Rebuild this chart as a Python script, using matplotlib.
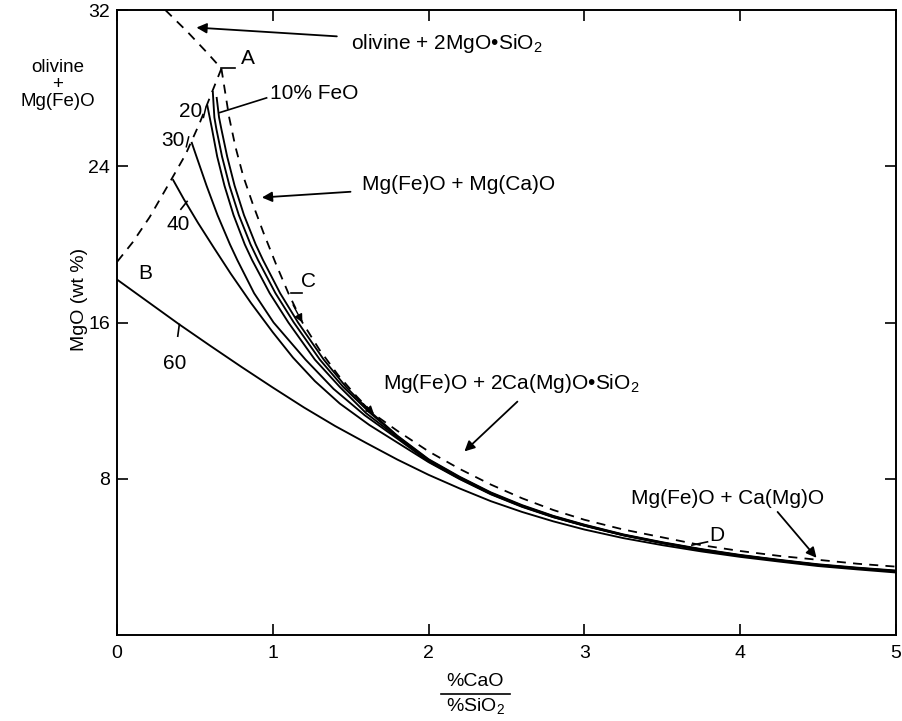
import matplotlib
matplotlib.use("Agg")
import matplotlib.pyplot as plt
from matplotlib.lines import Line2D

plt.rcParams['font.family'] = ['Liberation Sans', 'DejaVu Sans']
plt.rcParams['mathtext.fontset'] = 'custom'
plt.rcParams['mathtext.rm'] = 'Liberation Sans'

# ---- data ----
# dashed phase boundary
dash_top_x = [0.31, 0.45, 0.58, 0.67]
dash_top_y = [32.0, 30.9, 29.8, 29.0]
dash_left_x = [0.67, 0.60, 0.53, 0.44, 0.34, 0.21, 0.10, 0.0]
dash_left_y = [29.0, 27.6, 26.2, 24.6, 23.2, 21.4, 20.1, 19.1]
dash_right_x = [0.67, 0.69, 0.72, 0.76, 0.81, 0.87, 0.94, 1.02, 1.10, 1.19, 1.30, 1.42, 1.54, 1.65,
                1.8, 2.0, 2.2, 2.4, 2.6, 2.8, 3.0, 3.25, 3.5, 3.75, 4.0, 4.25, 4.5, 4.75, 5.0]
dash_right_y = [29.0, 28.0, 26.5, 25.0, 23.5, 22.1, 20.6, 19.0, 17.5, 16.0, 14.6, 13.3, 12.2, 11.3,
                10.45, 9.4, 8.5, 7.7, 7.0, 6.4, 5.9, 5.4, 5.0, 4.6, 4.3, 4.05, 3.85, 3.65, 3.5]

# solid iso-FeO curves
tail_x = [1.8, 2.0, 2.2, 2.4, 2.6, 2.8, 3.0, 3.25, 3.5, 3.75, 4.0, 4.25, 4.5, 4.75, 5.0]

fe10_x = [0.640, 0.655, 0.670, 0.707, 0.755, 0.815, 0.890, 0.937, 1.047, 1.162, 1.327, 1.47, 1.63] + tail_x
fe10_y = [27.5, 26.5, 25.9, 24.5, 23.0, 21.5, 20.0, 19.2, 17.5, 16.0, 14.1, 12.7, 11.4,
          10.2, 9.0, 8.1, 7.3, 6.65, 6.1, 5.65, 5.15, 4.75, 4.4, 4.1, 3.85, 3.62, 3.45, 3.3]
femid_x = [0.615, 0.625, 0.638, 0.674, 0.722, 0.782, 0.857, 0.905, 1.017, 1.135, 1.302, 1.452, 1.62] + tail_x
femid_y = [27.8, 26.5, 25.9, 24.5, 23.0, 21.5, 20.0, 19.2, 17.5, 16.0, 14.1, 12.7, 11.4,
           10.17, 8.97, 8.07, 7.27, 6.62, 6.08, 5.63, 5.13, 4.73, 4.38, 4.08, 3.83, 3.6, 3.43, 3.28]
fe20_x = [0.58, 0.595, 0.610, 0.643, 0.690, 0.748, 0.820, 0.867, 0.98, 1.10, 1.27, 1.43, 1.60] + tail_x
fe20_y = [27.1, 26.5, 25.9, 24.5, 23.0, 21.5, 20.0, 19.2, 17.5, 16.0, 14.1, 12.7, 11.35,
          10.12, 8.93, 8.04, 7.25, 6.6, 6.06, 5.61, 5.12, 4.72, 4.37, 4.07, 3.82, 3.59, 3.42, 3.27]
fe30_x = [0.48, 0.51, 0.575, 0.645, 0.725, 0.772, 0.88, 1.005, 1.21, 1.39, 1.59] + tail_x
fe30_y = [25.2, 24.5, 23.0, 21.5, 20.0, 19.2, 17.5, 16.0, 14.1, 12.6, 11.25,
          10.05, 8.88, 8.0, 7.22, 6.58, 6.04, 5.6, 5.11, 4.71, 4.36, 4.06, 3.81, 3.58, 3.41, 3.26]
fe40_x = [0.36, 0.43, 0.52, 0.62, 0.73, 0.86, 1.0, 1.13, 1.27, 1.43, 1.62] + tail_x
fe40_y = [23.3, 22.3, 21.1, 19.85, 18.5, 17.0, 15.5, 14.2, 13.0, 11.85, 10.75,
          9.85, 8.85, 7.98, 7.2, 6.56, 6.03, 5.59, 5.1, 4.7, 4.35, 4.05, 3.8, 3.57, 3.4, 3.25]
fe60_x = [0.0, 0.2, 0.4, 0.6, 0.8, 1.0, 1.2, 1.4, 1.6] + tail_x
fe60_y = [18.2, 17.05, 15.9, 14.8, 13.72, 12.67, 11.65, 10.7, 9.83,
          8.98, 8.2, 7.5, 6.85, 6.3, 5.82, 5.4, 4.96, 4.6, 4.28, 4.0, 3.76, 3.53, 3.36, 3.2]

x_ticks = [0, 1, 2, 3, 4, 5]
y_ticks = [8, 16, 24, 32]

fig = plt.figure(figsize=(9.03, 7.21), dpi=100)
ax = fig.add_axes([117/903, 1-635/721, (896-117)/903, (635-10)/721])
ax.set_xlim(0, 5)
ax.set_ylim(0, 32)

dash_kw = dict(color='black', lw=1.3, linestyle=(0, (5, 4)))
ax.plot(dash_top_x, dash_top_y, **dash_kw)
ax.plot(dash_left_x, dash_left_y, **dash_kw)
ax.plot(dash_right_x, dash_right_y, **dash_kw)

sol_kw = dict(color='black', lw=1.35, solid_joinstyle='round')
for xs, ys in [(fe10_x, fe10_y), (femid_x, femid_y), (fe20_x, fe20_y),
               (fe30_x, fe30_y), (fe40_x, fe40_y), (fe60_x, fe60_y)]:
    ax.plot(xs, ys, **sol_kw)

fs = 15
# arrows with labels
ax.annotate('olivine + 2MgO\u2022SiO$_2$', xy=(0.51, 31.1), xytext=(1.50, 30.3),
            fontsize=fs, va='center', ha='left',
            arrowprops=dict(arrowstyle='-|>', color='black', lw=1.3,
                            mutation_scale=15, shrinkA=8, shrinkB=0))
ax.annotate('Mg(Fe)O + Mg(Ca)O', xy=(0.93, 22.4), xytext=(1.57, 23.05),
            fontsize=fs, va='center', ha='left',
            arrowprops=dict(arrowstyle='-|>', color='black', lw=1.3,
                            mutation_scale=15, shrinkA=6, shrinkB=0))
ax.text(1.71, 12.9, 'Mg(Fe)O + 2Ca(Mg)O\u2022SiO$_2$', fontsize=fs, va='center', ha='left')
ax.annotate('', xy=(2.23, 9.4), xytext=(2.57, 11.95),
            arrowprops=dict(arrowstyle='-|>', color='black', lw=1.3,
                            mutation_scale=15, shrinkA=0, shrinkB=0))
ax.text(3.30, 7.0, 'Mg(Fe)O + Ca(Mg)O', fontsize=fs, va='center', ha='left')
ax.annotate('', xy=(4.49, 3.95), xytext=(4.24, 6.3),
            arrowprops=dict(arrowstyle='-|>', color='black', lw=1.3,
                            mutation_scale=15, shrinkA=0, shrinkB=0))

# arrowheads along the dashed boundary
for (x0, y0), (x1, y1) in [((1.13, 16.9), (1.19, 16.0)), ((1.58, 11.85), (1.65, 11.3))]:
    ax.annotate('', xy=(x1, y1), xytext=(x0, y0),
                arrowprops=dict(arrowstyle='-|>', color='black', lw=1.0,
                                mutation_scale=12, shrinkA=0, shrinkB=0))

# point labels
ax.text(0.84, 29.5, 'A', fontsize=fs, ha='center', va='center')
ax.plot([0.67, 0.76], [29.05, 29.05], color='black', lw=1.2)
ax.text(0.18, 18.5, 'B', fontsize=fs, ha='center', va='center')
ax.text(1.23, 18.1, 'C', fontsize=fs, ha='center', va='center')
ax.plot([1.12, 1.19], [17.5, 17.5], color='black', lw=1.2)
ax.text(3.85, 5.1, 'D', fontsize=fs, ha='center', va='center')
ax.plot([3.69, 3.79], [4.6, 4.77], color='black', lw=1.2)

# curve labels with small leader ticks
ax.text(0.98, 27.7, '10% FeO', fontsize=fs, ha='left', va='center')
ax.plot([0.66, 0.96], [26.75, 27.5], color='black', lw=1.2)
ax.text(0.47, 26.8, '20', fontsize=fs, ha='center', va='center')
ax.plot([0.555, 0.57], [26.5, 27.0], color='black', lw=1.1)
ax.text(0.36, 25.3, '30', fontsize=fs, ha='center', va='center')
ax.plot([0.445, 0.46], [25.0, 25.5], color='black', lw=1.1)
ax.text(0.39, 21.0, '40', fontsize=fs, ha='center', va='center')
ax.plot([0.41, 0.45], [21.8, 22.2], color='black', lw=1.2)
ax.text(0.37, 13.9, '60', fontsize=fs, ha='center', va='center')
ax.plot([0.39, 0.40], [15.3, 15.9], color='black', lw=1.2)

ax.text(-0.38, 28.2, 'olivine\n+\nMg(Fe)O', fontsize=13.5, ha='center', va='center',
        linespacing=1.0, clip_on=False)

# axes styling
ax.set_xticks(x_ticks)
ax.set_yticks(y_ticks)
ax.tick_params(direction='in', length=8, width=1.2, top=True, right=True,
               labelsize=14, pad=7)
ax.tick_params(axis='y', pad=5)
for s in ax.spines.values():
    s.set_linewidth(1.4)

fig.text(80/903, 1-299/721, 'MgO (wt %)', rotation=90, fontsize=14,
         ha='center', va='center')
fig.text(475/903, 1-682/721, '%CaO', fontsize=14, ha='center', va='center')
fig.add_artist(Line2D([441/903, 510/903], [1-694/721, 1-694/721], color='black', lw=1.2))
fig.text(475/903, 1-707/721, '%SiO$_2$', fontsize=14, ha='center', va='center')

fig.savefig('out.png', dpi=100)
